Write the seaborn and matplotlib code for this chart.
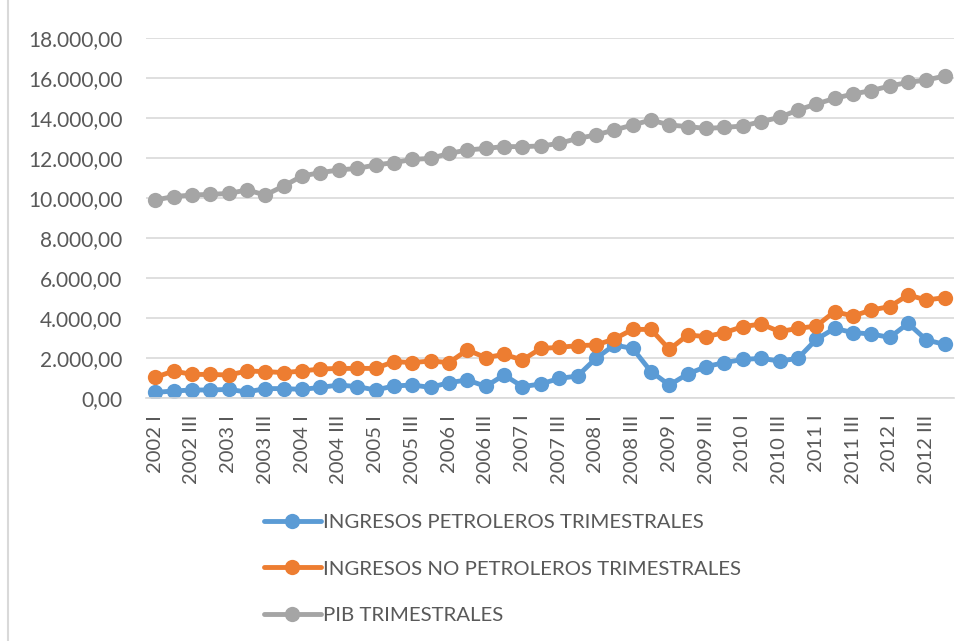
import matplotlib
matplotlib.use("Agg")
import matplotlib.pyplot as plt
from matplotlib.ticker import FuncFormatter
import pandas as pd
import seaborn as sns

# quarters 2002 I .. 2012 IV
years = list(range(2002, 2013))
quarters = ["I", "II", "III", "IV"]
periodos = [f"{y} {q}" for y in years for q in quarters]

petroleros = [280, 350, 400, 400, 430, 300, 470, 470, 430, 530, 650,
              570, 400, 600, 650, 530, 770, 900, 580, 1150, 570, 700,
              980, 1100, 1980, 2650, 2480, 1320, 650, 1200, 1570, 1770,
              1930, 1980, 1850, 1980, 2930, 3480, 3270, 3200, 3030, 3730,
              2900, 2680]
no_petroleros = [1030, 1350, 1180, 1180, 1150, 1350, 1320, 1270, 1350, 1450,
                 1480, 1480, 1480, 1820, 1770, 1850, 1770, 2400, 2020, 2180,
                 1900, 2480, 2530, 2620, 2650, 2950, 3430, 3430, 2430, 3150,
                 3070, 3270, 3570, 3700, 3320, 3480, 3600, 4320, 4100, 4400,
                 4570, 5150, 4900, 5020]
pib = [9900, 10070, 10150, 10180, 10230, 10400, 10150, 10600, 11100, 11270,
       11400, 11480, 11650, 11770, 11930, 11980, 12230, 12400, 12480, 12570,
       12570, 12600, 12730, 12980, 13150, 13400, 13650, 13900, 13650, 13570,
       13480, 13530, 13600, 13820, 14030, 14400, 14700, 14980, 15200, 15370,
       15600, 15780, 15900, 16100]

series = {
    "INGRESOS PETROLEROS TRIMESTRALES": petroleros,
    "INGRESOS NO PETROLEROS TRIMESTRALES": no_petroleros,
    "PIB TRIMESTRALES": pib,
}
colores = ["#5B9BD5", "#ED7D31", "#A5A5A5"]

sns.set_style("white")
plt.rcParams["font.family"] = ["Lato", "DejaVu Sans"]

fig = plt.figure(figsize=(9.71, 6.41), dpi=100)
ax = fig.add_axes([146 / 971, 1 - 398 / 641, (954 - 146) / 971, 360 / 641])

for (nombre, valores), c in zip(series.items(), colores):
    df = pd.DataFrame({"x": range(len(periodos)), "valor": valores})
    sns.lineplot(data=df, x="x", y="valor", ax=ax, color=c, linewidth=3.5,
                 marker="o", markersize=11, markeredgewidth=0, label=nombre)

ax.set_xlim(-0.5, len(periodos) - 0.5)
ax.set_ylim(0, 18000)
ax.set_yticks(range(0, 18001, 2000))
ax.yaxis.set_major_formatter(FuncFormatter(
    lambda v, p: f"{v:,.2f}".replace(",", "X").replace(".", ",").replace("X", ".")))
ax.set_xticks(range(0, len(periodos), 2))
ax.set_xticklabels(periodos[::2], rotation=90)
ax.set_xlabel("")
ax.set_ylabel("")
ax.grid(axis="y", color="#D9D9D9", linewidth=1.2)
ax.set_axisbelow(True)
for s in ["top", "right", "left"]:
    ax.spines[s].set_visible(False)
ax.spines["bottom"].set_color("#D9D9D9")
ax.spines["bottom"].set_linewidth(1.2)
ax.tick_params(axis="y", length=0, pad=17, labelsize=15, labelcolor="#595959")
ax.tick_params(axis="x", length=0, pad=12, labelsize=14.5, labelcolor="#595959")

handles, labels = ax.get_legend_handles_labels()
ax.legend_.remove()
fig.legend(handles, labels, loc="upper left", bbox_to_anchor=(246 / 971, 1 - 495 / 641),
           frameon=False, ncol=1, fontsize=14.7, labelcolor="#595959",
           handlelength=2.75, handletextpad=0.1, labelspacing=1.45)

# chart border
fig.add_artist(plt.Line2D([8 / 971, 8 / 971], [0, 1], color="#D9D9D9", linewidth=1.5))

fig.savefig("out.png", dpi=100)
